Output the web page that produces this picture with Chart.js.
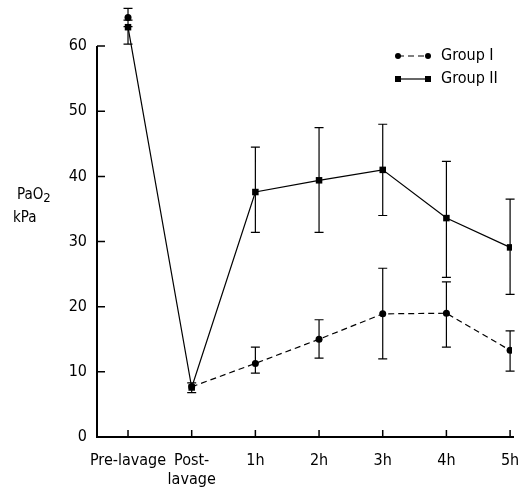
<!DOCTYPE html>
<html>
<head>
<meta charset="utf-8">
<script src="https://cdn.jsdelivr.net/npm/chart.js@4/dist/chart.umd.min.js"></script>
<style>
html,body{margin:0;padding:0;background:#fff;}
#wrap{width:527px;height:494px;position:relative;}
</style>
</head>
<body>
<div id="wrap"><canvas id="c" width="527" height="494"></canvas></div>
<script>
// ---- data ----
const categories = ['Pre-lavage', ['Post-', 'lavage'], '1h', '2h', '3h', '4h', '5h'];
const seriesNames = ['Group I', 'Group II'];
const group1Mean  = [64.4, 7.7, 11.3, 15.0, 18.9, 19.0, 13.3];
const group1Upper = [65.8, 8.3, 13.8, 18.0, 25.9, 23.8, 16.3];
const group1Lower = [63.0, 6.8, 9.8, 12.1, 12.0, 13.8, 10.1];
const group2Mean  = [62.9, 7.6, 37.6, 39.4, 41.0, 33.6, 29.1];
const group2Upper = [64.0, 8.3, 44.5, 47.5, 48.0, 42.3, 36.5];
const group2Lower = [60.3, 6.8, 31.4, 31.4, 34.0, 24.5, 21.9];
const yTicks = [0, 10, 20, 30, 40, 50, 60];
const yTitle = ['PaO', '2', 'kPa'];

const FONT = '"DejaVu Sans Condensed", "Liberation Sans Narrow", "DejaVu Sans", sans-serif';

function pts(arr) { return arr.map((v, i) => ({x: i, y: v})); }

const errorBars = [
  {upper: group1Upper, lower: group1Lower},
  {upper: group2Upper, lower: group2Lower}
];

const customPlugin = {
  id: 'custom',
  beforeDatasetsDraw(chart) {
    const ctx = chart.ctx;
    const xs = chart.scales.x, ys = chart.scales.y;
    const ca = chart.chartArea;
    ctx.save();
    ctx.strokeStyle = '#000';
    // axes
    ctx.lineWidth = 2;
    ctx.beginPath();
    const y0 = ys.getPixelForValue(0);
    const yTop = ys.getPixelForValue(yTicks[yTicks.length - 1]);
    ctx.moveTo(ca.left, yTop);
    ctx.lineTo(ca.left, y0);
    ctx.lineTo(ca.right + 2, y0);
    ctx.stroke();
    // y ticks inward
    ctx.lineWidth = 1.5;
    ctx.beginPath();
    yTicks.forEach(v => {
      const p = ys.getPixelForValue(v);
      ctx.moveTo(ca.left, p);
      ctx.lineTo(ca.left + 8, p);
    });
    // x ticks inward
    categories.forEach((c, i) => {
      const p = xs.getPixelForValue(i);
      ctx.moveTo(p, y0);
      ctx.lineTo(p, y0 - 7);
    });
    ctx.stroke();
    // error bars
    ctx.lineWidth = 1.2;
    ctx.beginPath();
    errorBars.forEach(eb => {
      eb.upper.forEach((u, i) => {
        const l = eb.lower[i];
        const px = xs.getPixelForValue(i);
        const pu = ys.getPixelForValue(u);
        const pl = ys.getPixelForValue(l);
        ctx.moveTo(px, pu); ctx.lineTo(px, pl);
        ctx.moveTo(px - 4.5, pu); ctx.lineTo(px + 4.5, pu);
        ctx.moveTo(px - 4.5, pl); ctx.lineTo(px + 4.5, pl);
      });
    });
    ctx.stroke();
    ctx.restore();
  },
  afterDraw(chart) {
    const ctx = chart.ctx;
    ctx.save();
    ctx.fillStyle = '#000';
    ctx.strokeStyle = '#000';
    // y title
    ctx.font = '15px ' + FONT;
    ctx.textBaseline = 'middle';
    ctx.textAlign = 'left';
    ctx.fillText(yTitle[0], 17, 195);
    const w = ctx.measureText(yTitle[0]).width;
    ctx.font = '13px ' + FONT;
    ctx.fillText(yTitle[1], 17 + w, 199);
    ctx.font = '15px ' + FONT;
    ctx.fillText(yTitle[2], 13, 218);
    // legend
    const rows = [56, 79];
    chart.data.datasets.forEach((ds, k) => {
      const y = rows[k];
      const x1 = 398, x2 = 428;
      ctx.lineWidth = ds.borderWidth;
      ctx.setLineDash(ds.borderDash || []);
      ctx.beginPath();
      ctx.moveTo(x1, y); ctx.lineTo(x2, y);
      ctx.stroke();
      ctx.setLineDash([]);
      [x1, x2].forEach(x => {
        ctx.beginPath();
        if (ds.pointStyle === 'rect') {
          ctx.rect(x - 3, y - 3, 6, 6);
        } else {
          ctx.arc(x, y, 3, 0, Math.PI * 2);
        }
        ctx.fill();
      });
      ctx.font = '16px ' + FONT;
      ctx.textBaseline = 'middle';
      ctx.fillText(ds.label, 441, y);
    });
    ctx.restore();
  }
};

new Chart(document.getElementById('c'), {
  type: 'line',
  data: {
    datasets: [
      {
        label: seriesNames[0],
        data: pts(group1Mean),
        borderColor: '#000',
        backgroundColor: '#000',
        borderWidth: 1.2,
        borderDash: [6, 4],
        segment: {
          borderColor: (c) => c.p0DataIndex === 0 ? 'rgba(0,0,0,0)' : '#000'
        },
        pointStyle: 'circle',
        pointRadius: 3.5,
        pointBorderWidth: 0,
        tension: 0
      },
      {
        label: seriesNames[1],
        data: pts(group2Mean),
        borderColor: '#000',
        backgroundColor: '#000',
        borderWidth: 1.2,
        pointStyle: 'rect',
        pointRadius: 4.6,
        pointBorderWidth: 0,
        tension: 0
      }
    ]
  },
  options: {
    responsive: false,
    animation: false,
    events: [],
    layout: {padding: {left: 0, right: 15, top: 7, bottom: 0}},
    plugins: {legend: {display: false}, tooltip: {enabled: false}},
    scales: {
      x: {
        type: 'linear',
        min: -0.487,
        max: 6.03,
        afterBuildTicks(scale) { scale.ticks = categories.map((c, i) => ({value: i})); },
        afterFit(scale) { scale.height = 57; scale.paddingLeft = 0; scale.paddingRight = 0; },
        grid: {display: false, drawTicks: false},
        border: {display: false},
        ticks: {
          color: '#000',
          font: {family: FONT, size: 16},
          padding: 14,
          maxRotation: 0,
          autoSkip: false,
          callback: (v) => categories[Math.round(v)]
        }
      },
      y: {
        type: 'linear',
        min: 0,
        max: 66,
        afterBuildTicks(scale) { scale.ticks = yTicks.map(v => ({value: v})); },
        afterFit(scale) { scale.width = 97; scale.paddingTop = 0; scale.paddingBottom = 0; },
        grid: {display: false, drawTicks: false},
        border: {display: false},
        ticks: {
          color: '#000',
          font: {family: FONT, size: 16},
          padding: 10
        }
      }
    }
  },
  plugins: [customPlugin]
});
</script>
</body>
</html>
